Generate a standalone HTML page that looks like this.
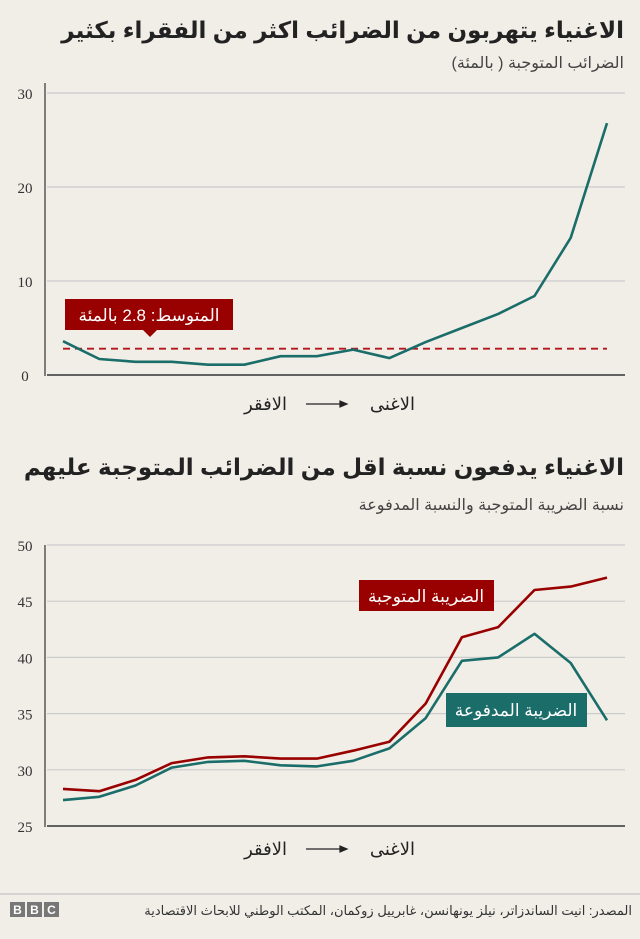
<!DOCTYPE html>
<html lang="ar"><head><meta charset="utf-8">
<style>
body{margin:0;background:#f1eee8;}
svg{display:block;font-family:"Liberation Sans","Noto Sans CJK SC","DejaVu Sans",sans-serif;}
</style></head>
<body>
<svg id="c" width="640" height="939" viewBox="0 0 640 939">
<rect width="640" height="939" fill="#f1eee8"/>
<text x="624" y="38" text-anchor="end" font-size="23" font-weight="bold" fill="#222">الاغنياء يتهربون من الضرائب اكثر من الفقراء بكثير</text>
<text x="624" y="68" text-anchor="end" font-size="16" fill="#444">الضرائب المتوجبة ( بالمئة)</text>
<g id="top"></g>
<text x="624" y="475" text-anchor="end" font-size="23" font-weight="bold" fill="#222">الاغنياء يدفعون نسبة اقل من الضرائب المتوجبة عليهم</text>
<text x="624" y="510" text-anchor="end" font-size="16" fill="#444">نسبة الضريبة المتوجبة والنسبة المدفوعة</text>
<g id="bot"></g>
<line x1="0" y1="894" x2="640" y2="894" stroke="#bbb"/>
<g>
<rect x="10" y="902" width="15" height="15" fill="#777"/><text x="17.5" y="914" text-anchor="middle" font-size="12" font-weight="bold" fill="#fff">B</text>
<rect x="27" y="902" width="15" height="15" fill="#777"/><text x="34.5" y="914" text-anchor="middle" font-size="12" font-weight="bold" fill="#fff">B</text>
<rect x="44" y="902" width="15" height="15" fill="#777"/><text x="51.5" y="914" text-anchor="middle" font-size="12" font-weight="bold" fill="#fff">C</text>
</g>
<text x="632" y="915" text-anchor="end" font-size="13" fill="#333">المصدر: انيت الساندزاتر، نيلز يونهانسن، غابرييل زوكمان، المكتب الوطني للابحاث الاقتصادية</text>
</svg>
<script>
const evasionValues=[3.6,1.7,1.4,1.4,1.1,1.1,2.0,2.0,2.7,1.8,3.5,5.0,6.5,8.4,14.6,26.8];
const evasionMean=2.8;
const topTicks=[0,10,20,30];
const owedValues=[28.3,28.1,29.1,30.6,31.1,31.2,31.0,31.0,31.7,32.5,35.9,41.8,42.7,46.0,46.3,47.1];
const paidValues=[27.3,27.6,28.6,30.2,30.7,30.8,30.4,30.3,30.8,31.9,34.6,39.7,40.0,42.1,39.5,34.4];
const botTicks=[25,30,35,40,45,50];
const NS="http://www.w3.org/2000/svg";
function mk(p,t,a){const e=document.createElementNS(NS,t);for(const k in a)e.setAttribute(k,a[k]);p.appendChild(e);return e;}
const X0=63,X1=607;
function xs(i,n){return X0+(X1-X0)*i/(n-1);}
function axes(g,ticks,y,top,bottom){
  for(const t of ticks){
    const yy=y(t);
    const l=mk(g,'line',{x1:47,x2:625,y1:yy,y2:yy,stroke:t===ticks[0]?'#333':'#ccc','stroke-width':t===ticks[0]?1.5:1.2});
    
    
    const tx=mk(g,'text',{x:25,y:yy+6,'text-anchor':'middle','font-size':15,fill:'#333','font-family':'Liberation Serif, serif'});
    tx.textContent=t;
    
    
  }
  const ax=mk(g,'line',{x1:45,x2:45,y1:top,y2:bottom,stroke:'#333','stroke-width':1.2});
  
  
}
function line(g,vals,y,color,name){
  const d=vals.map((v,i)=>(i?'L':'M')+xs(i,vals.length).toFixed(1)+','+y(v).toFixed(1)).join(' ');
  const p=mk(g,'path',{d:d,fill:'none',stroke:color,'stroke-width':2.6,'stroke-linejoin':'round'});
  
  
}
function xlabel(g,yb){
  const a=mk(g,'text',{x:287,y:yb,'text-anchor':'end','font-size':18,fill:'#222'});a.textContent='الافقر';
  
  
  const b=mk(g,'text',{x:415,y:yb,'text-anchor':'end','font-size':18,fill:'#222'});b.textContent='الاغنى';
  
  
  const ar=mk(g,'path',{d:`M306,${yb-6}H344M340,${yb-9}L347,${yb-6}L340,${yb-3}Z`,stroke:'#222','stroke-width':1.2,fill:'#222'});
  
  
}
// top chart
const gt=document.getElementById('top');
const yt=v=>375-v*(375-93)/30;
axes(gt,topTicks,yt,83,376);
const dl=mk(gt,'line',{x1:X0,x2:X1,y1:yt(evasionMean),y2:yt(evasionMean),stroke:'#b3161b','stroke-width':1.8,'stroke-dasharray':'7,5'});


line(gt,evasionValues,yt,'#1b6d69','evasion-line');
const ann=mk(gt,'g',{});


mk(ann,'rect',{x:65,y:299,width:168,height:31,fill:'#990000'});
mk(ann,'path',{d:'M143,330L150,337L157,330Z',fill:'#990000'});
const at=mk(ann,'text',{x:149,y:321,'text-anchor':'middle','font-size':17,fill:'#fff'});at.textContent='المتوسط: 2.8 بالمئة';
xlabel(gt,410);
// bottom chart
const gb=document.getElementById('bot');
const yb=v=>826-(v-25)*(826-545)/25;
axes(gb,botTicks,yb,545,827);
line(gb,owedValues,yb,'#990000','owed-tax-line');
line(gb,paidValues,yb,'#1b6d69','paid-tax-line');
const l1=mk(gb,'g',{});


mk(l1,'rect',{x:359,y:580,width:135,height:31,fill:'#990000'});
const t1=mk(l1,'text',{x:426,y:602,'text-anchor':'middle','font-size':17,fill:'#fff'});t1.textContent='الضريبة المتوجبة';
const l2=mk(gb,'g',{});


mk(l2,'rect',{x:446,y:693,width:141,height:34,fill:'#1b6d69'});
const t2=mk(l2,'text',{x:516,y:716,'text-anchor':'middle','font-size':17,fill:'#fff'});t2.textContent='الضريبة المدفوعة';
xlabel(gb,855);
</script>
</body></html>
